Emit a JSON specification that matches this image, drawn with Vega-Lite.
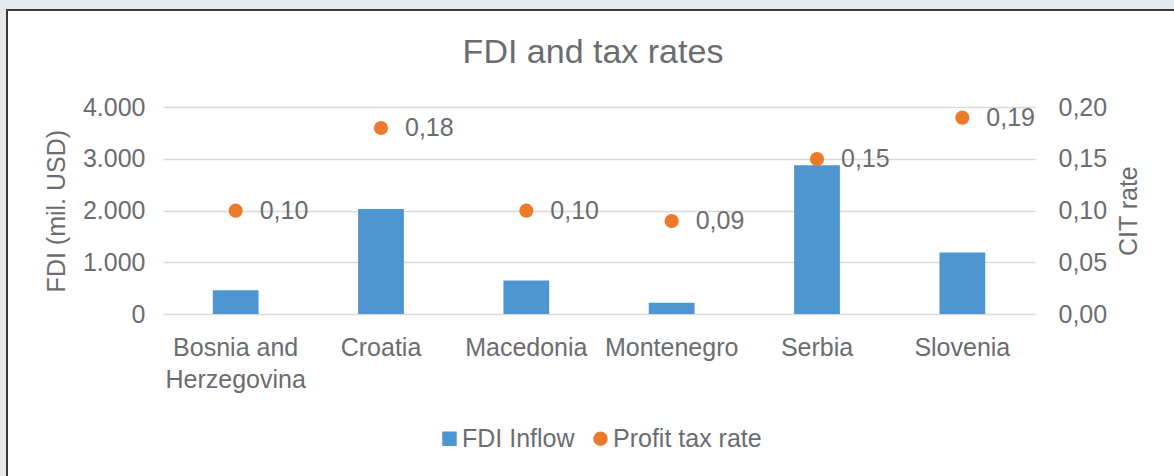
{
  "$schema": "https://vega.github.io/schema/vega-lite/v6.json",
  "autosize": "none",
  "width": 1172,
  "height": 470,
  "padding": {"left": 7, "top": 10, "right": -5, "bottom": -4},
  "background": "#e7e8ea",
  "config": {
    "locale": {"number": {"decimal": ",", "thousands": ".", "grouping": [3], "currency": ["", " €"]}},
    "font": "Liberation Sans",
    "view": {"fill": "white", "stroke": "#3a3a3a", "strokeWidth": 2},
    "axis": {"labelFont": "Liberation Sans", "titleFont": "Liberation Sans", "labelFontSize": 25, "titleFontSize": 25, "labelColor": "#6b6c70", "titleColor": "#6b6c70", "titleFontWeight": "normal", "domain": false, "ticks": false, "tickSize": 0}
  },
  "title": {"text": "FDI and tax rates", "fontSize": 34, "fontWeight": "normal", "color": "#6b6c70", "font": "Liberation Sans", "anchor": "middle", "frame": "group", "baseline": "alphabetic", "offset": -87},
  "data": {
    "values": [
      {"country": "Bosnia and Herzegovina", "fdi": 460, "cit": 0.10},
      {"country": "Croatia", "fdi": 2030, "cit": 0.18},
      {"country": "Macedonia", "fdi": 650, "cit": 0.10},
      {"country": "Montenegro", "fdi": 220, "cit": 0.09},
      {"country": "Serbia", "fdi": 2880, "cit": 0.15},
      {"country": "Slovenia", "fdi": 1190, "cit": 0.19}
    ]
  },
  "encoding": {
    "x": {
      "field": "country", "type": "nominal", "sort": null,
      "scale": {"range": [156, 1028], "paddingInner": 0, "paddingOuter": 0},
      "axis": {"title": null, "labelAngle": 0, "offset": -166, "labelPadding": 21, "labelBaseline": "top", "labelLineHeight": 32, "labelExpr": "datum.value == 'Bosnia and Herzegovina' ? ['Bosnia and', 'Herzegovina'] : datum.value", "grid": false}
    }
  },
  "layer": [
    {
      "mark": {"type": "bar", "width": {"band": 0.315}},
      "encoding": {
        "y": {
          "field": "fdi", "type": "quantitative",
          "scale": {"domain": [0, 4000], "range": [304, 97.3], "nice": false, "zero": true},
          "axis": {"title": "FDI (mil. USD)", "orient": "left", "values": [0, 1000, 2000, 3000, 4000], "format": ",.0f", "offset": -156, "labelPadding": 18, "titlePadding": 13, "grid": true, "gridColor": "#d9d9d9", "gridWidth": 1.5}
        },
        "color": {
          "datum": "FDI Inflow",
          "scale": {"domain": ["FDI Inflow", "Profit tax rate"], "range": ["#4e96d2", "#ed7a2a"]},
          "legend": {
            "title": null, "orient": "none", "direction": "horizontal", "legendX": 430, "legendY": 416,
            "labelFontSize": 25, "labelColor": "#6b6c70", "labelFont": "Liberation Sans", "symbolSize": 210, "labelOffset": 0, "columnPadding": 13, "padding": 0, "symbolOpacity": 1, "symbolStrokeWidth": 0,
            "encode": {"symbols": {"update": {"shape": {"signal": "datum.value === 'FDI Inflow' ? 'square' : 'circle'"}}}}
          }
        }
      }
    },
    {
      "mark": {"type": "circle", "size": 200, "opacity": 1},
      "encoding": {
        "y": {
          "field": "cit", "type": "quantitative",
          "scale": {"domain": [0, 0.2], "range": [304, 97.3], "nice": false, "zero": true},
          "axis": {"title": "CIT rate", "orient": "right", "values": [0, 0.05, 0.1, 0.15, 0.2], "format": ".2f", "offset": -144, "labelPadding": 23, "titlePadding": 10, "titleAngle": 270, "titleBaseline": "top", "grid": false}
        },
        "color": {"datum": "Profit tax rate"}
      }
    },
    {
      "mark": {"type": "text", "align": "left", "baseline": "middle", "dx": 24, "fontSize": 25, "color": "#6b6c70", "font": "Liberation Sans"},
      "encoding": {
        "y": {"field": "cit", "type": "quantitative", "scale": {"domain": [0, 0.2], "range": [304, 97.3], "nice": false, "zero": true}, "axis": null},
        "text": {"field": "cit", "type": "quantitative", "format": ".2f"}
      }
    }
  ],
  "resolve": {"scale": {"y": "independent"}}
}
